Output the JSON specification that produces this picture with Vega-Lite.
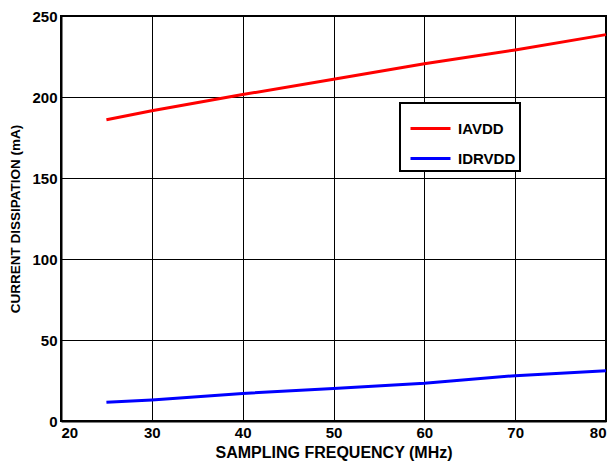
{
  "$schema": "https://vega.github.io/schema/vega-lite/v6.json",
  "width": 545,
  "height": 405,
  "autosize": {"type": "none"},
  "padding": {"left": 61, "top": 16, "right": 5, "bottom": 42},
  "background": "white",
  "config": {
    "view": {"stroke": "black", "strokeWidth": 2},
    "font": "Liberation Sans",
    "legend": {"strokeColor": "black", "strokeWidth": 2, "fillColor": "white"}
  },
  "data": {
    "values": [
      {"series": "IAVDD", "freq": 25, "current": 186},
      {"series": "IAVDD", "freq": 30, "current": 191.5},
      {"series": "IAVDD", "freq": 40, "current": 201.5},
      {"series": "IAVDD", "freq": 50, "current": 211},
      {"series": "IAVDD", "freq": 60, "current": 220.5},
      {"series": "IAVDD", "freq": 70, "current": 229},
      {"series": "IAVDD", "freq": 80, "current": 238.5},
      {"series": "IDRVDD", "freq": 25, "current": 11.5},
      {"series": "IDRVDD", "freq": 30, "current": 13},
      {"series": "IDRVDD", "freq": 40, "current": 17},
      {"series": "IDRVDD", "freq": 50, "current": 20},
      {"series": "IDRVDD", "freq": 60, "current": 23.3},
      {"series": "IDRVDD", "freq": 70, "current": 28},
      {"series": "IDRVDD", "freq": 80, "current": 31}
    ]
  },
  "mark": {"type": "line", "strokeWidth": 3},
  "encoding": {
    "x": {
      "field": "freq", "type": "quantitative",
      "scale": {"domain": [20, 80], "nice": false},
      "axis": {
        "title": "SAMPLING FREQUENCY (MHz)",
        "values": [20, 30, 40, 50, 60, 70, 80],
        "grid": true, "gridColor": "black", "gridOpacity": 1, "gridWidth": 1,
        "domainColor": "black", "domainWidth": 2,
        "ticks": false,
        "labelFont": "Liberation Sans", "labelFontWeight": "bold", "labelFontSize": 15, "labelColor": "black",
        "labelPadding": 4,
        "titleFont": "Liberation Sans", "titleFontWeight": "bold", "titleFontSize": 16, "titleColor": "black",
        "titlePadding": 4
      }
    },
    "y": {
      "field": "current", "type": "quantitative",
      "scale": {"domain": [0, 250], "nice": false},
      "axis": {
        "title": "CURRENT DISSIPATION (mA)",
        "values": [0, 50, 100, 150, 200, 250],
        "grid": true, "gridColor": "black", "gridOpacity": 1, "gridWidth": 1,
        "domainColor": "black", "domainWidth": 2,
        "ticks": false,
        "labelFont": "Liberation Sans", "labelFontWeight": "bold", "labelFontSize": 15, "labelColor": "black",
        "labelPadding": 4,
        "titleFont": "Liberation Sans", "titleFontWeight": "bold", "titleFontSize": 13.5, "titleColor": "black",
        "titlePadding": 9
      }
    },
    "color": {
      "field": "series", "type": "nominal",
      "scale": {"domain": ["IAVDD", "IDRVDD"], "range": ["#ff0000", "#0000ff"]},
      "legend": {
        "title": null,
        "orient": "none",
        "legendX": 339,
        "legendY": 87,
        "padding": 4,
        "symbolType": "stroke",
        "symbolSize": 1600,
        "symbolStrokeWidth": 3,
        "symbolOffset": 5,
        "labelFont": "Liberation Sans", "labelFontWeight": "bold", "labelFontSize": 15, "labelColor": "black",
        "labelOffset": 6,
        "rowPadding": -18
      }
    }
  }
}
